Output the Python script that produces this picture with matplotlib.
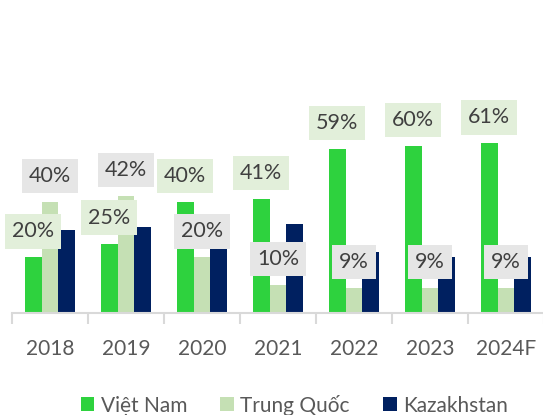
"""Grouped bar chart: market share by year, Viet Nam / Trung Quoc / Kazakhstan."""

import matplotlib

matplotlib.use("Agg")
import matplotlib.pyplot as plt
import numpy as np
from matplotlib.patches import Patch

years = ["2018", "2019", "2020", "2021", "2022", "2023", "2024F"]
series_names = ["Việt Nam", "Trung Quốc", "Kazakhstan"]
viet_nam = [20, 25, 40, 41, 59, 60, 61]
trung_quoc = [40, 42, 20, 10, 9, 9, 9]
kazakhstan = [30, 31, 25, 32, 22, 20, 20]

COLORS = ["#2ED23E", "#C5E0B4", "#002060"]
LABEL_BG = {"vn": "#E2EFDA", "cn": "#E6E6E6"}
TEXT = "#404040"
AXIS = "#D9D9D9"
FONT = "Lato"

plt.rcParams["font.family"] = [FONT, "DejaVu Sans"]

fig = plt.figure(figsize=(5.43, 4.15), dpi=100)
ax = fig.add_axes([12 / 543, 102 / 415, 532 / 543, 222.4 / 415])

x = np.arange(len(years))
width = 0.223
series = [viet_nam, trung_quoc, kazakhstan]
for i, (vals, color) in enumerate(zip(series, COLORS)):
    ax.bar(x + (i - 1) * width, vals, width, color=color, zorder=2)

# value labels, drawn above the bars
for vals, offset, bg in [(viet_nam, -1, LABEL_BG["vn"]), (trung_quoc, 0, LABEL_BG["cn"])]:
    for xi, v in zip(x, vals):
        ax.annotate(
            f"{v}%",
            xy=(xi + offset * width, v),
            xytext=(0, 26),
            textcoords="offset pixels",
            ha="center",
            va="center",
            fontsize=15.5,
            color=TEXT,
            annotation_clip=False,
            zorder=3,
            bbox=dict(boxstyle="square,pad=0.33", fc=bg, ec="none"),
        )

ax.set_xlim(-0.5, 6.5)
ax.set_ylim(0, 80)
ax.set_yticks([])
for side in ["top", "right", "left"]:
    ax.spines[side].set_visible(False)
ax.spines["bottom"].set_color(AXIS)
ax.spines["bottom"].set_linewidth(1.5)

ax.set_xticks(np.arange(-0.5, 7.0, 1.0))
ax.set_xticklabels([])
ax.tick_params(axis="x", which="major", length=8, width=1.5, color=AXIS)
ax.set_xticks(x, minor=True)
ax.set_xticklabels(years, minor=True, fontsize=15, color="#595959")
ax.tick_params(axis="x", which="minor", length=0, pad=19)

handles = [Patch(facecolor=c, edgecolor="none") for c in COLORS]
fig.legend(
    handles,
    series_names,
    loc="center",
    bbox_to_anchor=(0.542, 0.024),
    ncol=3,
    frameon=False,
    fontsize=15,
    labelcolor="#595959",
    handlelength=0.65,
    handleheight=0.65,
    handletextpad=0.3,
    columnspacing=1.6,
)

fig.savefig("out.png", dpi=100)
